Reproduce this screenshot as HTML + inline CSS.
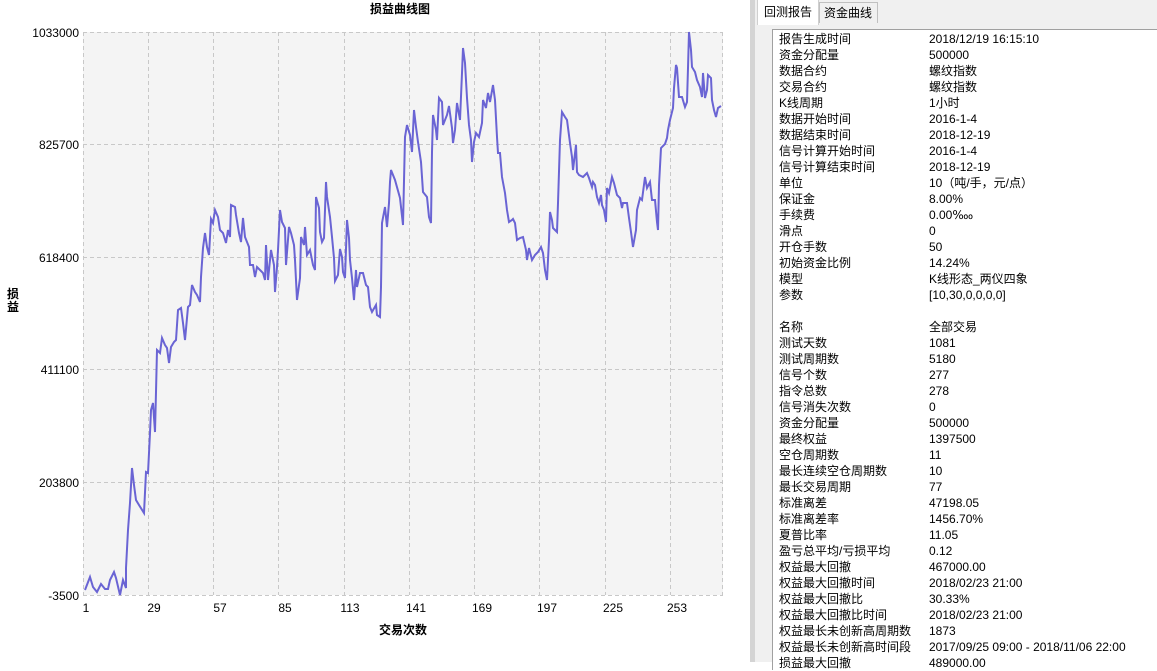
<!DOCTYPE html>
<html><head><meta charset="utf-8"><style>
body{margin:0;width:1157px;height:662px;overflow:hidden;background:#fff;font-family:"Liberation Sans","Noto Sans CJK SC",sans-serif;position:relative}
#right{position:absolute;left:750px;top:0;width:407px;height:662px;background:#f0f0f0}
#box{position:absolute;left:772px;top:29px;width:390px;height:640px;background:#fff;border-left:1px solid #a0a0a0;border-top:1px solid #a0a0a0}
.r{position:absolute;font-size:12px;line-height:16px;white-space:nowrap;font-family:"Liberation Sans","Noto Sans CJK SC",sans-serif}
</style></head><body>
<svg width="750" height="662" style="position:absolute;left:0;top:0" font-family="Liberation Sans, Noto Sans CJK SC, sans-serif">
<rect x="83" y="32" width="640" height="563" fill="#f4f4f4"/>
<g stroke="#c8c8c8" stroke-dasharray="4,3" fill="none">
<line x1="83" y1="32.5" x2="723" y2="32.5"/><line x1="83" y1="144.5" x2="723" y2="144.5"/><line x1="83" y1="257.5" x2="723" y2="257.5"/><line x1="83" y1="369.5" x2="723" y2="369.5"/><line x1="83" y1="482.5" x2="723" y2="482.5"/><line x1="83" y1="595.5" x2="723" y2="595.5"/>
<line x1="83.5" y1="32" x2="83.5" y2="595"/><line x1="148.5" y1="32" x2="148.5" y2="595"/><line x1="213.5" y1="32" x2="213.5" y2="595"/><line x1="278.5" y1="32" x2="278.5" y2="595"/><line x1="344.5" y1="32" x2="344.5" y2="595"/><line x1="409.5" y1="32" x2="409.5" y2="595"/><line x1="474.5" y1="32" x2="474.5" y2="595"/><line x1="539.5" y1="32" x2="539.5" y2="595"/><line x1="605.5" y1="32" x2="605.5" y2="595"/><line x1="670.5" y1="32" x2="670.5" y2="595"/><line x1="722.5" y1="32" x2="722.5" y2="595"/>
</g>
<polyline fill="none" stroke="#6a64d4" stroke-width="2" stroke-linejoin="miter" points="85,590 90,577 93,587 97,592 101,584 105,589 108,589 110,580 114,572 116,578 120,595 123,580 126,588 126,568 128,530 130,503 132,468 134,485 136,500 139,505 144,513 146,472 148,473 150,433 151,410 153,403 155,432 156,392 157,350 160,353 162,338 165,345 167,348 169,363 171,347 174,342 176,340 178,310 181,308 183,323 185,340 188,307 190,305 192,285 195,292 197,295 200,302 201,277 203,248 205,233 207,247 209,255 211,219 213,223 215,210 218,217 220,230 223,233 226,243 228,230 230,237 231,205 235,207 236,215 239,233 241,242 243,218 245,237 249,247 250,265 253,265 255,277 257,267 260,270 263,273 265,280 266,245 268,280 271,250 274,265 275,292 277,267 278,250 280,210 282,222 285,228 286,265 289,227 291,233 294,245 295,260 297,300 300,278 301,237 304,245 305,227 307,255 310,250 313,265 315,270 316,197 319,208 320,232 322,242 324,238 326,182 327,197 330,217 332,237 334,258 335,281 338,275 340,249 342,257 343,272 345,278 347,220 349,238 350,260 352,278 354,300 356,270 357,287 360,273 363,273 366,285 368,287 370,307 372,312 376,305 377,315 380,317 381,287 382,223 385,207 387,227 389,203 390,182 391,170 395,180 400,198 403,225 405,137 407,125 410,135 412,152 414,110 416,127 418,142 421,162 423,192 427,197 429,217 431,223 432,152 433,115 436,130 437,140 439,98 442,102 443,125 447,115 449,106 452,128 453,143 455,130 457,103 460,120 462,73 463,48 465,63 467,98 469,125 471,140 472,162 474,142 476,133 479,137 482,123 483,100 486,108 488,93 490,102 493,85 495,100 497,137 498,153 500,153 502,177 505,193 507,210 509,222 512,220 513,219 515,223 517,240 520,238 523,237 526,250 527,260 529,248 532,260 535,255 538,252 541,247 543,253 545,270 547,280 549,240 550,212 552,220 553,228 557,232 558,203 560,140 562,112 565,117 567,120 570,143 572,157 573,170 576,145 577,172 579,175 583,177 587,173 589,178 592,187 593,182 595,185 597,197 599,203 601,195 602,205 604,210 606,222 607,188 609,193 612,177 614,183 617,195 620,198 622,208 623,203 627,203 629,218 631,232 633,247 636,230 637,210 640,198 642,200 645,177 647,188 650,182 652,200 655,200 657,222 658,230 659,185 661,148 665,144 667,138 668,130 670,120 673,108 674,88 676,65 677,68 679,97 682,97 685,107 687,102 688,68 689,32 691,50 692,67 695,72 697,80 700,87 702,97 703,73 705,98 707,90 708,75 711,78 712,100 714,110 716,117 718,108 721,106"/>
<g font-size="12" fill="#000" text-anchor="end">
<text x="79" y="37">1033000</text><text x="79" y="149">825700</text><text x="79" y="262">618400</text><text x="79" y="374">411100</text><text x="79" y="487">203800</text><text x="79" y="600">-3500</text>
</g>
<g font-size="12" fill="#000" text-anchor="middle">
<text x="86" y="612">1</text><text x="154" y="612">29</text><text x="220" y="612">57</text><text x="285" y="612">85</text><text x="350" y="612">113</text><text x="416" y="612">141</text><text x="482" y="612">169</text><text x="547" y="612">197</text><text x="613" y="612">225</text><text x="677" y="612">253</text>
</g>
<text x="403" y="634" font-size="12" font-weight="bold" text-anchor="middle">交易次数</text>
<text x="400" y="13" font-size="12" font-weight="bold" text-anchor="middle">损益曲线图</text>
<text x="13" y="298" font-size="12" font-weight="bold" text-anchor="middle">损</text>
<text x="13" y="311" font-size="12" font-weight="bold" text-anchor="middle">益</text>
</svg>
<div id="right">
<div style="position:absolute;left:0;top:0;width:5px;height:662px;background:#d4d4d4"></div>
<div style="position:absolute;left:7px;top:0;width:60px;height:25px;background:#fff;border:1px solid #d0d0d0;border-top:none;border-bottom:none"></div>
<div style="position:absolute;left:69px;top:2px;width:57px;height:20px;background:#f0f0f0;border:1px solid #c0c0c0;border-bottom:none"></div>
<div class="r" style="left:14px;top:4px">回测报告</div>
<div class="r" style="left:74px;top:5px">资金曲线</div>
</div>
<div id="box"></div>
<div class="r" style="left:779px;top:31px">报告生成时间<br>资金分配量<br>数据合约<br>交易合约<br>K线周期<br>数据开始时间<br>数据结束时间<br>信号计算开始时间<br>信号计算结束时间<br>单位<br>保证金<br>手续费<br>滑点<br>开仓手数<br>初始资金比例<br>模型<br>参数<br>&nbsp;<br>名称<br>测试天数<br>测试周期数<br>信号个数<br>指令总数<br>信号消失次数<br>资金分配量<br>最终权益<br>空仓周期数<br>最长连续空仓周期数<br>最长交易周期<br>标准离差<br>标准离差率<br>夏普比率<br>盈亏总平均/亏损平均<br>权益最大回撤<br>权益最大回撤时间<br>权益最大回撤比<br>权益最大回撤比时间<br>权益最长未创新高周期数<br>权益最长未创新高时间段<br>损益最大回撤</div>
<div class="r" style="left:929px;top:31px">2018/12/19 16:15:10<br>500000<br>螺纹指数<br>螺纹指数<br>1小时<br>2016-1-4<br>2018-12-19<br>2016-1-4<br>2018-12-19<br>10（吨/手，元/点）<br>8.00%<br>0.00‱<br>0<br>50<br>14.24%<br>K线形态_两仪四象<br>[10,30,0,0,0,0]<br>&nbsp;<br>全部交易<br>1081<br>5180<br>277<br>278<br>0<br>500000<br>1397500<br>11<br>10<br>77<br>47198.05<br>1456.70%<br>11.05<br>0.12<br>467000.00<br>2018/02/23 21:00<br>30.33%<br>2018/02/23 21:00<br>1873<br>2017/09/25 09:00 - 2018/11/06 22:00<br>489000.00</div>
</body></html>
